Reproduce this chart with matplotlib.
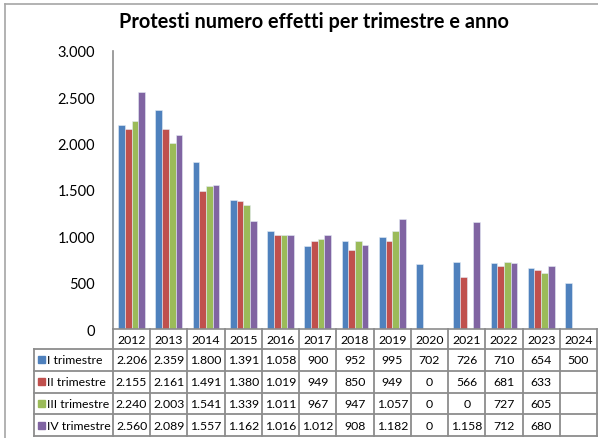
import numpy as np
import matplotlib
matplotlib.use("Agg")
import matplotlib.pyplot as plt
from matplotlib.lines import Line2D
from matplotlib.patches import Rectangle

plt.rcParams['font.family'] = ['Lato', 'DejaVu Sans']

years = ['2012', '2013', '2014', '2015', '2016', '2017', '2018', '2019',
         '2020', '2021', '2022', '2023', '2024']
series_names = ['I trimestre', 'II trimestre', 'III trimestre', 'IV trimestre']
q1 = [2206, 2359, 1800, 1391, 1058, 900, 952, 995, 702, 726, 710, 654, 500]
q2 = [2155, 2161, 1491, 1380, 1019, 949, 850, 949, 0, 566, 681, 633, np.nan]
q3 = [2240, 2003, 1541, 1339, 1011, 967, 947, 1057, 0, 0, 727, 605, np.nan]
q4 = [2560, 2089, 1557, 1162, 1016, 1012, 908, 1182, 0, 1158, 712, 680, np.nan]
series = [q1, q2, q3, q4]
colors = ['#4F81BD', '#C0504D', '#9BBB59', '#8064A2']
yticks = [0, 500, 1000, 1500, 2000, 2500, 3000]

W, H = 598, 439
fig = plt.figure(figsize=(W / 100, H / 100), dpi=100)
fig.patch.set_facecolor('white')

ax_l, ax_r, ax_t, ax_b = 113, 597, 52, 330
ax = fig.add_axes([ax_l / W, 1 - ax_b / H, (ax_r - ax_l) / W, (ax_b - ax_t) / H])
axh = ax_b - ax_t
axw = ax_r - ax_l

def fmt(v):
    if v is None or (isinstance(v, float) and np.isnan(v)):
        return ''
    return f"{v:,.0f}".replace(',', '.')

x = np.arange(len(years))
bw = 0.18
for k, (vals, c) in enumerate(zip(series, colors)):
    v = np.array(vals, dtype=float)
    ax.bar(x + (k - 1.5) * bw, np.nan_to_num(v), width=bw, color=c,
           edgecolor='#e4ecf5', linewidth=0.4, zorder=2)

ax.set_xlim(-0.5, len(years) - 0.5)
ax.set_ylim(0, 3000)
ax.set_yticks(yticks)
ax.set_yticklabels([fmt(t) for t in yticks], fontsize=10.5)
ax.tick_params(axis='y', length=0, pad=13)
ax.set_xticks([])
for s in ['top', 'right']:
    ax.spines[s].set_visible(False)
ax.spines['left'].set_color('#8c8c8c')
ax.spines['left'].set_linewidth(1.2)
ax.spines['bottom'].set_color('#8c8c8c')
ax.spines['bottom'].set_linewidth(1.2)
ax.set_facecolor('none')

# table
lc = '#8c8c8c'
lw = 1.3
xt = ax.get_xaxis_transform()
hdr = 20 / axh
rowh = (437 - 350) / 4 / axh
leg_left = (34 - ax_l) / axw

for i in range(len(years) + 1):
    xe = i - 0.5
    ax.add_line(Line2D([xe, xe], [0, -hdr - 4 * rowh], transform=xt, color=lc,
                       lw=lw, clip_on=False))
for r in range(5):
    yy = -hdr - r * rowh
    ax.add_line(Line2D([leg_left, 1], [yy, yy], transform=ax.transAxes, color=lc,
                       lw=lw, clip_on=False))
ax.add_line(Line2D([leg_left, leg_left], [-hdr, -hdr - 4 * rowh], transform=ax.transAxes,
                   color=lc, lw=lw, clip_on=False))

for i, yr in enumerate(years):
    ax.text(i, -hdr / 2, yr, transform=xt, ha='center', va='center', fontsize=8.8,
            clip_on=False)
for r, (vals, name, c) in enumerate(zip(series, series_names, colors)):
    yc = -hdr - (r + 0.5) * rowh
    for i, v in enumerate(vals):
        ax.text(i, yc, fmt(v), transform=xt, ha='center', va='center', fontsize=8.8,
                clip_on=False)
    sq = 7 / axw
    ax.add_patch(Rectangle((leg_left + 4 / axw, yc - 3.5 / axh), sq, 7 / axh,
                           transform=ax.transAxes, color=c, clip_on=False))
    ax.text(leg_left + 13 / axw, yc, name, transform=ax.transAxes, ha='left',
            va='center', fontsize=8.8, clip_on=False)

fig.add_artist(Line2D([5 / W, 1], [1 - 5 / H, 1 - 5 / H], transform=fig.transFigure,
                      color='#a6a6a6', lw=1.2))
fig.add_artist(Line2D([5 / W, 5 / W], [0, 1 - 5 / H], transform=fig.transFigure,
                      color='#a6a6a6', lw=1.2))

fig.text(314 / W, 1 - 22 / H, 'Protesti numero effetti per trimestre e anno',
         ha='center', va='center', fontsize=14.3, fontweight='bold')

fig.savefig('out.png', dpi=100, facecolor='white')
